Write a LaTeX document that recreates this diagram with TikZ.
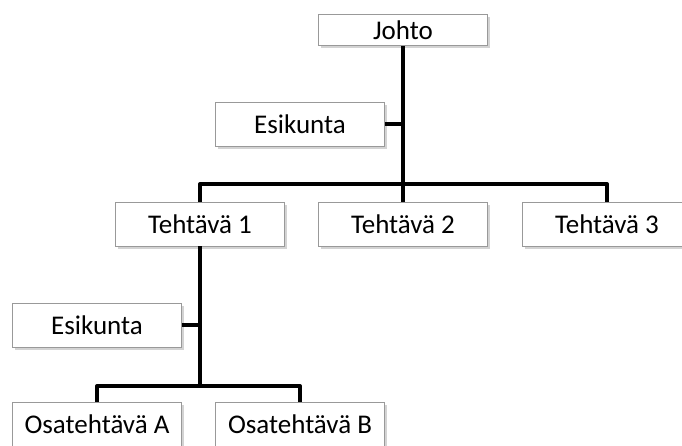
\documentclass[tikz,border=0pt]{standalone}
\usepackage{fontspec}
\setmainfont{Carlito}
\usetikzlibrary{shadows}

\begin{document}
\begin{tikzpicture}[x=1pt,y=-1pt,
  laatikko/.style={draw=black!40, line width=0.8pt, fill=white, inner sep=0pt,
    minimum width=169pt, minimum height=44pt,
    font=\fontsize{27}{30}\selectfont,
    drop shadow={opacity=0.35, shadow xshift=2pt, shadow yshift=-3pt}},
  yhteys/.style={line width=4pt, line join=round}]
\useasboundingbox (0,0) rectangle (682,446);
\node[laatikko, minimum height=31pt] (johto) at (403,30) {Johto};
\node[laatikko] (esik1) at (300,124) {Esikunta};
\node[laatikko] (teh1) at (200,224) {Tehtävä 1};
\node[laatikko] (teh2) at (403,224) {Tehtävä 2};
\node[laatikko] (teh3) at (607,224) {Tehtävä 3};
\node[laatikko] (esik2) at (97,325) {Esikunta};
\node[laatikko] (osaA) at (97,424) {Osatehtävä A};
\node[laatikko] (osaB) at (300,424) {Osatehtävä B};
\coordinate (haara1) at (403,184);
\coordinate (haara2) at (200,386);
\draw[yhteys] (johto.south) -- (teh2.north);
\draw[yhteys] (esik1.east) -- (esik1.east -| johto.south);
\draw[yhteys] (teh1.north) |- (haara1) -| (teh3.north);
\draw[yhteys] (teh1.south) -- (haara2);
\draw[yhteys] (esik2.east) -- (esik2.east -| teh1.south);
\draw[yhteys] (osaA.north) |- (haara2) -| (osaB.north);
\end{tikzpicture}
\end{document}
